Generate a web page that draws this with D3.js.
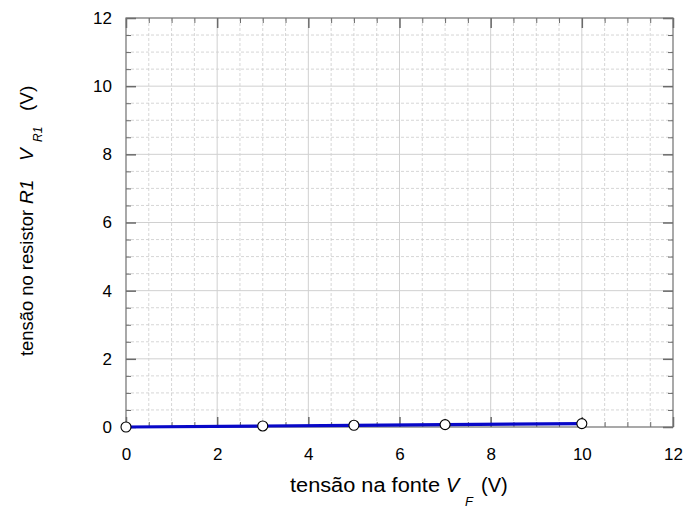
<!DOCTYPE html>
<html>
<head>
<meta charset="utf-8">
<script src="https://cdn.jsdelivr.net/npm/d3@7"></script>
<style>
  html, body { margin: 0; padding: 0; background: #fff; }
  svg { display: block; font-family: "Liberation Sans", Arial, Helvetica, sans-serif; }
</style>
</head>
<body>
<svg id="chart" width="686" height="509"></svg>
<script>
// Source voltage V_F (V) and voltage across resistor R1 (V)
const sourceVoltage = [0, 3, 5, 7, 10];
const resistorVoltage = [0, 0.03, 0.05, 0.07, 0.1];
const xTicks = [0, 2, 4, 6, 8, 10, 12];
const yTicks = [0, 2, 4, 6, 8, 10, 12];

const W = 686, H = 509;
const margin = { left: 126, right: 13, top: 18, bottom: 82 };
const svg = d3.select("#chart");

const x = d3.scaleLinear().domain([0, 12]).range([margin.left, W - margin.right]);
const y = d3.scaleLinear().domain([0, 12]).range([H - margin.bottom, margin.top]);

const x0 = x.range()[0], x1 = x.range()[1];
const y0 = y.range()[0], y1 = y.range()[1];

const minor = d3.range(0, 12.01, 0.5).filter(v => v % 2 !== 0);

// minor grid (dashed)
const grid = svg.append("g");
grid.selectAll(".mx").data(minor).join("line")
  .attr("x1", d => x(d)).attr("x2", d => x(d))
  .attr("y1", y1).attr("y2", y0)
  .attr("stroke", "#cccccc").attr("stroke-width", 0.8).attr("stroke-dasharray", "3,2");
grid.selectAll(".my").data(minor).join("line")
  .attr("y1", d => y(d)).attr("y2", d => y(d))
  .attr("x1", x0).attr("x2", x1)
  .attr("stroke", "#cccccc").attr("stroke-width", 0.8).attr("stroke-dasharray", "3,2");
// major grid (solid)
grid.selectAll(".Mx").data(xTicks.slice(1, -1)).join("line")
  .attr("x1", d => x(d)).attr("x2", d => x(d))
  .attr("y1", y1).attr("y2", y0)
  .attr("stroke", "#d0d0d0").attr("stroke-width", 1);
grid.selectAll(".My").data(yTicks.slice(1, -1)).join("line")
  .attr("y1", d => y(d)).attr("y2", d => y(d))
  .attr("x1", x0).attr("x2", x1)
  .attr("stroke", "#d0d0d0").attr("stroke-width", 1);

// inward axes on all four sides
function styleAxis(width) {
  return g => {
    g.select(".domain").remove();
    g.selectAll(".tick line").attr("stroke", "#6a6a6a").attr("stroke-width", width);
    g.selectAll(".tick text").attr("fill", "#000").style("font-size", "17px")
      .style("font-family", "'Liberation Sans', Arial, sans-serif");
  };
}
const minorTickLen = 5, majorTickLen = 10;

svg.append("g").attr("transform", `translate(0,${y0})`)
  .call(d3.axisBottom(x).tickValues(xTicks).tickSize(-majorTickLen).tickPadding(21).tickFormat(d3.format("d")))
  .call(styleAxis(1.5));
svg.append("g").attr("transform", `translate(0,${y0})`)
  .call(d3.axisBottom(x).tickValues(minor).tickSize(-minorTickLen).tickFormat(""))
  .call(styleAxis(1));
svg.append("g").attr("transform", `translate(0,${y1})`)
  .call(d3.axisTop(x).tickValues(xTicks).tickSize(-majorTickLen).tickFormat(""))
  .call(styleAxis(1.5));
svg.append("g").attr("transform", `translate(0,${y1})`)
  .call(d3.axisTop(x).tickValues(minor).tickSize(-minorTickLen).tickFormat(""))
  .call(styleAxis(1));
svg.append("g").attr("transform", `translate(${x0},0)`)
  .call(d3.axisLeft(y).tickValues(yTicks).tickSize(-majorTickLen).tickPadding(14).tickFormat(d3.format("d")))
  .call(styleAxis(1.5));
svg.append("g").attr("transform", `translate(${x0},0)`)
  .call(d3.axisLeft(y).tickValues(minor).tickSize(-minorTickLen).tickFormat(""))
  .call(styleAxis(1));
svg.append("g").attr("transform", `translate(${x1},0)`)
  .call(d3.axisRight(y).tickValues(yTicks).tickSize(-majorTickLen).tickFormat(""))
  .call(styleAxis(1.5));
svg.append("g").attr("transform", `translate(${x1},0)`)
  .call(d3.axisRight(y).tickValues(minor).tickSize(-minorTickLen).tickFormat(""))
  .call(styleAxis(1));

// frame
svg.append("rect").attr("x", x0).attr("y", y1).attr("width", x1 - x0).attr("height", y0 - y1)
  .attr("fill", "none").attr("stroke", "#707070").attr("stroke-width", 1.2);

// data
const pts = sourceVoltage.map((v, i) => [v, resistorVoltage[i]]);
svg.append("path").datum(pts)
  .attr("d", d3.line().x(d => x(d[0])).y(d => y(d[1])))
  .attr("fill", "none").attr("stroke", "#0808c8").attr("stroke-width", 3.2);
svg.selectAll(".pt").data(pts).join("circle")
  .attr("cx", d => x(d[0])).attr("cy", d => y(d[1])).attr("r", 5)
  .attr("fill", "#fff").attr("stroke", "#000").attr("stroke-width", 1.1);

// x axis title: tensão na fonte V_F (V)
const xTitle = svg.append("g").style("font-size", "20px").attr("fill", "#000");
xTitle.append("text").attr("x", 290).attr("y", 492)
  .attr("textLength", 150).attr("lengthAdjust", "spacingAndGlyphs").text("tensão na fonte");
xTitle.append("text").attr("x", 446).attr("y", 492).attr("font-style", "italic").text("V");
xTitle.append("text").attr("x", 465).attr("y", 506).attr("font-style", "italic")
  .style("font-size", "13px").text("F");
xTitle.append("text").attr("x", 481).attr("y", 492).text("(V)");

// y axis title: tensão no resistor R1 V_R1 (V), read bottom to top
const yTitle = svg.append("g").attr("transform", "translate(33,0) rotate(-90)")
  .style("font-size", "19px").attr("fill", "#000");
yTitle.append("text").attr("x", -356).attr("y", 0)
  .attr("textLength", 146).attr("lengthAdjust", "spacingAndGlyphs").text("tensão no resistor");
yTitle.append("text").attr("x", -204).attr("y", 0).attr("font-style", "italic").text("R1");
yTitle.append("text").attr("x", -161).attr("y", 0).attr("font-style", "italic").text("V");
yTitle.append("text").attr("x", -142).attr("y", 9).attr("font-style", "italic")
  .style("font-size", "12px").text("R1");
yTitle.append("text").attr("x", -111).attr("y", 0).text("(V)");
</script>
</body>
</html>
